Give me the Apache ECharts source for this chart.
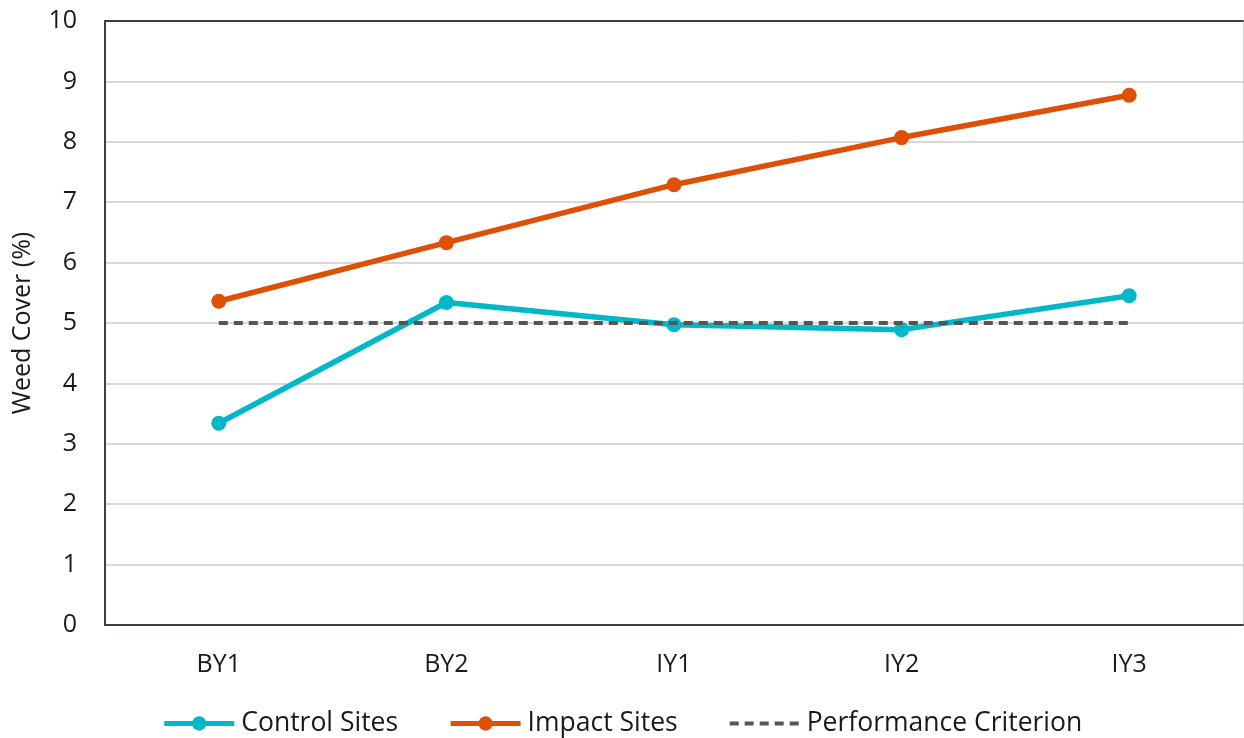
<!DOCTYPE html>
<html>
<head>
<meta charset="utf-8">
<script src="https://cdn.jsdelivr.net/npm/echarts@6/dist/echarts.min.js"></script>
<style>
  html, body { margin: 0; padding: 0; background: #fff; }
  #chart { width: 1244px; height: 738px; }
</style>
</head>
<body>
<div id="chart"></div>
<script>
// Survey years: baseline (BY) and impact (IY)
const categories = ['BY1', 'BY2', 'IY1', 'IY2', 'IY3'];
// Mean weed cover (%) per year
const controlSites = [3.34, 5.34, 4.97, 4.89, 5.45];
const impactSites = [5.36, 6.33, 7.29, 8.07, 8.77];
const performanceCriterion = [5, 5, 5, 5, 5];
const yTicks = { min: 0, max: 10, interval: 1 };

const FONT = '"Open Sans", "Noto Sans", sans-serif';
const TEXT = '#1a1a1a';
const AXIS_DARK = '#3b3f46';
const CYAN = '#00b8c8';
const ORANGE = '#dd5006';
const DASH = '#555555';

const chart = echarts.init(document.getElementById('chart'), null, { renderer: 'canvas' });

chart.setOption({
  animation: false,
  textStyle: { fontFamily: FONT, color: TEXT },
  grid: { left: 105, right: 1, top: 21, bottom: 113, containLabel: false, outerBoundsMode: 'none' },
  legend: {
    bottom: -4,
    left: 'center',
    itemWidth: 70,
    itemHeight: 18,
    itemGap: 50,
    textStyle: { fontFamily: FONT, fontSize: 26.5, color: TEXT, padding: [0, 0, 0, 2] },
    data: [
      { name: 'Control Sites', lineStyle: { width: 5, color: CYAN }, itemStyle: { color: CYAN } },
      { name: 'Impact Sites', lineStyle: { width: 5, color: ORANGE }, itemStyle: { color: ORANGE } },
      { name: 'Performance Criterion', lineStyle: { width: 4, color: DASH, type: [9, 6] }, itemStyle: { opacity: 0 } }
    ]
  },
  xAxis: [
    {
      type: 'category',
      data: categories,
      boundaryGap: true,
      axisLine: { lineStyle: { color: AXIS_DARK, width: 2 } },
      axisTick: { show: false },
      axisLabel: { fontFamily: FONT, fontSize: 25, color: TEXT, margin: 27 },
      splitLine: { show: false }
    },
    {
      type: 'category',
      position: 'top',
      data: categories,
      axisLine: { onZero: false, lineStyle: { color: AXIS_DARK, width: 2 } },
      axisTick: { show: false },
      axisLabel: { show: false },
      splitLine: { show: false }
    }
  ],
  yAxis: [
    {
      type: 'value',
      min: yTicks.min,
      max: yTicks.max,
      interval: yTicks.interval,
      name: 'Weed Cover (%)',
      nameLocation: 'middle',
      nameGap: 70,
      nameRotate: 90,
      nameTextStyle: { fontFamily: FONT, fontSize: 25, color: TEXT },
      axisLine: { show: true, lineStyle: { color: AXIS_DARK, width: 2 } },
      axisTick: { show: false },
      axisLabel: { fontFamily: FONT, fontSize: 25, color: TEXT, margin: 28 },
      splitLine: { lineStyle: { color: '#d9d9d9', width: 2 } }
    },
    {
      type: 'value',
      position: 'right',
      min: yTicks.min,
      max: yTicks.max,
      interval: yTicks.interval,
      axisLine: { show: true, lineStyle: { color: '#d4d4d4', width: 1 } },
      axisTick: { show: false },
      axisLabel: { show: false },
      splitLine: { show: false }
    }
  ],
  series: [
    {
      name: 'Control Sites',
      type: 'line',
      data: controlSites,
      symbol: 'circle',
      symbolSize: 15,
      color: CYAN,
      lineStyle: { width: 5.5, color: CYAN },
      itemStyle: { color: CYAN },
      z: 2
    },
    {
      name: 'Impact Sites',
      type: 'line',
      data: impactSites,
      symbol: 'circle',
      symbolSize: 15,
      color: ORANGE,
      lineStyle: { width: 5.5, color: ORANGE },
      itemStyle: { color: ORANGE },
      z: 2
    },
    {
      name: 'Performance Criterion',
      type: 'line',
      data: performanceCriterion,
      symbol: 'none',
      color: DASH,
      lineStyle: { width: 4, color: DASH, type: [9, 6] },
      itemStyle: { color: DASH },
      z: 3
    }
  ]
});
</script>
</body>
</html>
